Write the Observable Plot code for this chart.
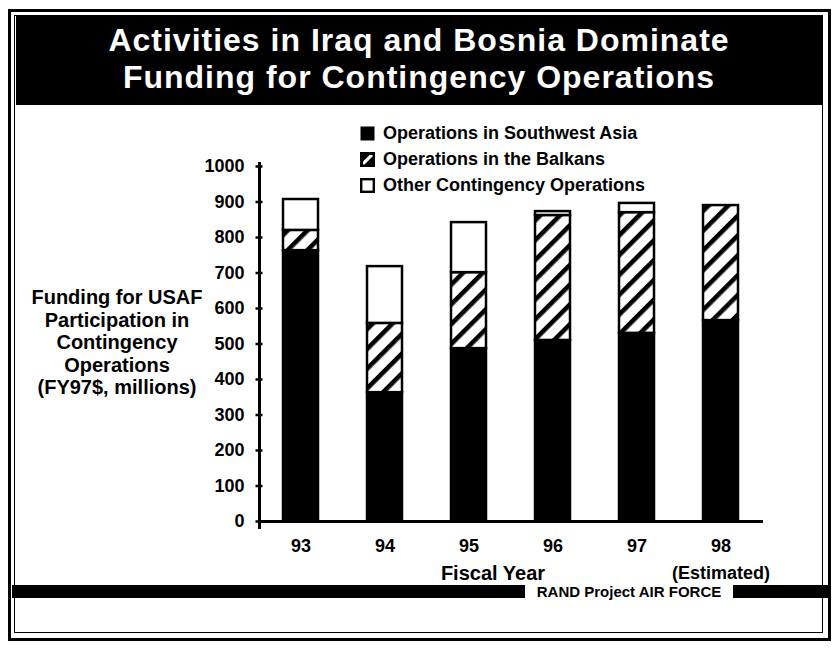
<!DOCTYPE html>
<html>
<head>
<meta charset="utf-8">
<script src="https://cdn.jsdelivr.net/npm/d3@7"></script>
<script src="https://cdn.jsdelivr.net/npm/@observablehq/plot@0.6"></script>
<style>
  html, body { margin: 0; padding: 0; background: #fff; }
  #page { position: relative; width: 838px; height: 649px; overflow: hidden;
          font-family: "Liberation Sans", Arial, Helvetica, sans-serif; font-weight: bold; color: #000; }
  .abs { position: absolute; }
  #frameOuter { left: 8px; top: 9px; width: 817px; height: 626px; border: 3px solid #000; }
  #frameInner { left: 14px; top: 15px; width: 807px; height: 616px; border: 1px solid #000; }
  #titleBand { left: 16px; top: 16px; width: 806px; height: 89px; background: #000; }
  #title { left: 16px; top: 22px; width: 806px; text-align: center; color: #fff; font-size: 32px; line-height: 37px; letter-spacing: 1px; white-space: nowrap; }
  .legRow { left: 360px; height: 26px; display: flex; align-items: center; font-size: 18px; white-space: nowrap; }
  .legRow svg { margin-right: 8px; }
  #ylabel { left: 12px; top: 286px; width: 210px; text-align: center; font-size: 20px; line-height: 22.5px; }
  #xlabel { left: 393px; top: 561px; width: 200px; text-align: center; font-size: 20px; line-height: 24px; }
  .randBlack { top: 585px; height: 13px; background: #000; }
  #randText { left: 526px; top: 583px; width: 206px; text-align: center; font-size: 15px; line-height: 17px; white-space: nowrap; }
</style>
</head>
<body>
<div id="page">
  <div id="frameOuter" class="abs"></div>
  <div id="frameInner" class="abs"></div>
  <div id="titleBand" class="abs"></div>
  <div id="title" class="abs">Activities in Iraq and Bosnia Dominate<br>Funding for Contingency Operations</div>
  <div id="legend"></div>
  <div id="ylabel" class="abs">Funding for USAF<br>Participation in<br>Contingency<br>Operations<br>(FY97$, millions)</div>
  <div id="xlabel" class="abs">Fiscal Year</div>
  <div class="abs randBlack" style="left:12px;width:513px;"></div>
  <div id="randText" class="abs">RAND Project AIR FORCE</div>
  <div class="abs randBlack" style="left:733px;width:95px;"></div>
</div>
<script>
// ---- data ----
const years = ["93", "94", "95", "96", "97", "98"];
const seriesNames = ["Operations in Southwest Asia", "Operations in the Balkans", "Other Contingency Operations"];
const southwestAsia = [763, 363, 487, 510, 530, 566];
const balkans       = [57, 195, 214, 352, 340, 324];
const otherOps      = [87, 160, 141, 11, 26, 0];
const yTicks = [0, 100, 200, 300, 400, 500, 600, 700, 800, 900, 1000];
const xTickLabels = ["93", "94", "95", "96", "97", "98\n(Estimated)"];

const seriesValues = [southwestAsia, balkans, otherOps];
const rows = [];
years.forEach((yr, i) => {
  seriesNames.forEach((s, j) => rows.push({year: yr, series: s, value: seriesValues[j][i]}));
});

const W = 838, H = 649;
const plot = Plot.plot({
  width: W,
  height: H,
  marginLeft: 259,
  marginRight: 75,
  marginTop: 166,
  marginBottom: 128,
  style: {fontFamily: "'Liberation Sans', Arial, Helvetica, sans-serif", fontWeight: "bold", fontSize: "18px", background: "transparent", overflow: "visible", color: "#000"},
  x: {domain: years, paddingInner: 0.583, paddingOuter: 0.27, label: null},
  y: {domain: [0, 1000], label: null},
  color: {domain: seriesNames, range: ["#000", "url(#hatch)", "#fff"], legend: false},
  marks: [
    Plot.barY(rows, Plot.stackY({x: "year", y: "value", fill: "series", stroke: "#000", strokeWidth: 2.5})),
    Plot.ruleY([0], {stroke: "#000", strokeWidth: 3}),
    Plot.frame({anchor: "left", stroke: "#000", strokeWidth: 3, insetTop: -3, insetBottom: -6}),
    Plot.axisY({ticks: yTicks, tickSize: 7, dx: 3.5, strokeWidth: 2.5, tickFormat: () => "", label: null}),
    Plot.axisY({ticks: yTicks, tickSize: 0, tickPadding: 15, fontSize: 18, tickFormat: d => String(d), label: null}),
    Plot.axisX({tickSize: 0, tickPadding: 11, fontSize: 18, lineHeight: 1.5,
                tickFormat: d => xTickLabels[years.indexOf(d)], label: null})
  ]
});

plot.insertAdjacentHTML("afterbegin",
  `<defs><pattern id="hatch" patternUnits="userSpaceOnUse" width="14" height="14" patternTransform="rotate(45)">
     <rect width="14" height="14" fill="#fff"/><rect x="0" y="0" width="4.6" height="14" fill="#000"/>
   </pattern></defs>`);
plot.style.position = "absolute";
plot.style.left = "0px";
plot.style.top = "0px";
const page = document.getElementById("page");
page.insertBefore(plot, page.children[3]);

// ---- legend ----
const swatches = [
  `<svg width="15" height="15"><rect x="0.5" y="0.5" width="14" height="14" fill="#000"/></svg>`,
  `<svg width="15" height="15"><rect x="1.2" y="1.2" width="12.6" height="12.6" fill="#000" stroke="#000" stroke-width="2.4"/><polygon points="3,9.5 9.5,3 12.5,3 12.5,4.5 4.5,12.5 3,12.5" fill="#fff"/></svg>`,
  `<svg width="15" height="15"><rect x="1.2" y="1.2" width="12.6" height="12.6" fill="#fff" stroke="#000" stroke-width="2.4"/></svg>`
];
const legTops = [120, 146, 172];
const leg = document.getElementById("legend");
seriesNames.forEach((s, i) => {
  const d = document.createElement("div");
  d.className = "abs legRow";
  d.style.top = legTops[i] + "px";
  d.innerHTML = swatches[i] + `<span>${s}</span>`;
  leg.appendChild(d);
});
</script>
</body>
</html>
